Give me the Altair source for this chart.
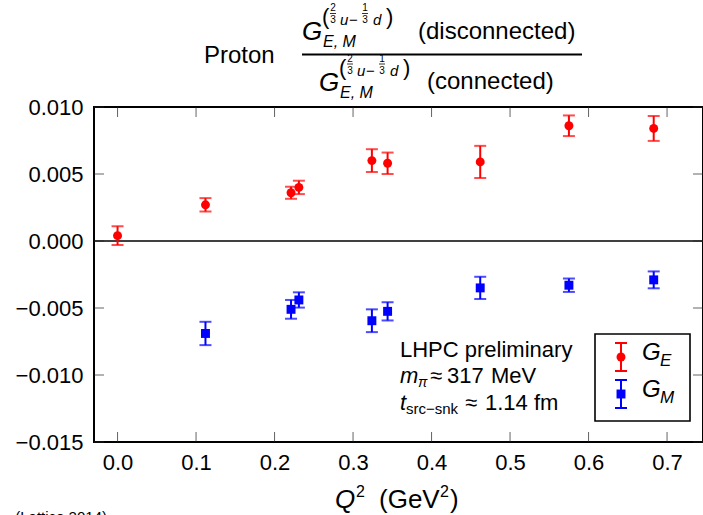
import altair as alt
import pandas as pd

# ---------------- data ----------------
q_E = [0.0, 0.112, 0.221, 0.231, 0.324, 0.344, 0.462, 0.575, 0.683]
GE = [0.0004, 0.0027, 0.0036, 0.0040, 0.0060, 0.0058, 0.0059, 0.0086, 0.0084]
GE_err = [0.0007, 0.0005, 0.00045, 0.0005, 0.00085, 0.0008, 0.0012, 0.00077, 0.00093]

q_M = [0.112, 0.221, 0.231, 0.324, 0.344, 0.462, 0.575, 0.683]
GM = [-0.0069, -0.0051, -0.0044, -0.00595, -0.00525, -0.0035, -0.0033, -0.0029]
GM_err = [0.00087, 0.0007, 0.00057, 0.00085, 0.00068, 0.00083, 0.0005, 0.00063]

x_ticks = [0.0, 0.1, 0.2, 0.3, 0.4, 0.5, 0.6, 0.7]
y_ticks = [-0.015, -0.010, -0.005, 0.0, 0.005, 0.010]

series = ["G_E", "G_M"]
colors = ["#ff0000", "#0000ff"]
shapes = ["circle", "square"]

rows = []
for q, v, e in zip(q_E, GE, GE_err):
    rows.append({"q": q, "v": v, "lo": v - e, "hi": v + e, "s": "G_E"})
for q, v, e in zip(q_M, GM, GM_err):
    rows.append({"q": q, "v": v, "lo": v - e, "hi": v + e, "s": "G_M"})
df = pd.DataFrame(rows)

xt_df = pd.DataFrame({"t": x_ticks})
yt_df = pd.DataFrame({"t": y_ticks})

# ---------------- layout ----------------
FONT = "Liberation Sans"
L, T0 = 94, 107
W, H = 609, 335

xscale = alt.Scale(domain=[-0.03, 0.7458], nice=False, zero=False)
yscale = alt.Scale(domain=[-0.015, 0.010], nice=False, zero=False)
xaxis = alt.Axis(values=x_ticks, format=".1f", labelFont=FONT, labelFontSize=22,
                 labelColor="black", ticks=False, domain=False, grid=False,
                 labelPadding=10, title=None)
yaxis = alt.Axis(values=y_ticks, format=".3f", labelFont=FONT, labelFontSize=22,
                 labelColor="black", ticks=False, domain=False, grid=False,
                 labelPadding=11, title=None)
cscale = alt.Scale(domain=series, range=colors)
sscale = alt.Scale(domain=series, range=shapes)

one = alt.Data(values=[{"a": 1}])

layers = []


def txt(s, x, y, size, italic=False, align="left"):
    return alt.Chart(one).mark_text(
        text=s, font=FONT, fontSize=size,
        fontStyle="italic" if italic else "normal",
        align=align, baseline="alphabetic", color="black"
    ).encode(x=alt.value(x - L), y=alt.value(y - T0))


def hline(x1, x2, y, w=1.5, color="black"):
    return alt.Chart(one).mark_rule(color=color, strokeWidth=w).encode(
        x=alt.value(x1 - L), x2=alt.value(x2 - L), y=alt.value(y - T0))


def vline(x, y1, y2, w=2, color="black"):
    return alt.Chart(one).mark_rule(color=color, strokeWidth=w).encode(
        x=alt.value(x - L), y=alt.value(y1 - T0), y2=alt.value(y2 - T0))


# zero line
zero = alt.Chart(one).mark_rule(color="black", strokeWidth=1.6).encode(
    y=alt.datum(0, scale=yscale, axis=yaxis))
layers.append(zero)

# inward ticks
tick_style = dict(color="#222222", thickness=1, size=10)
layers.append(alt.Chart(xt_df).mark_tick(orient="vertical", **tick_style).encode(
    x=alt.X("t:Q", scale=xscale, axis=xaxis), y=alt.value(H - 5)))
layers.append(alt.Chart(xt_df).mark_tick(orient="vertical", **tick_style).encode(
    x=alt.X("t:Q", scale=xscale, axis=xaxis), y=alt.value(5)))
layers.append(alt.Chart(yt_df).mark_tick(orient="horizontal", **tick_style).encode(
    y=alt.Y("t:Q", scale=yscale, axis=yaxis), x=alt.value(5)))
layers.append(alt.Chart(yt_df).mark_tick(orient="horizontal", **tick_style).encode(
    y=alt.Y("t:Q", scale=yscale, axis=yaxis), x=alt.value(W - 5)))

# error bars
base = alt.Chart(df)
layers.append(base.mark_rule(strokeWidth=2).encode(
    x=alt.X("q:Q", scale=xscale, axis=xaxis),
    y=alt.Y("lo:Q", scale=yscale, axis=yaxis), y2="hi:Q",
    color=alt.Color("s:N", scale=cscale, legend=None)))
for f in ["lo", "hi"]:
    layers.append(base.mark_tick(orient="horizontal", thickness=2, size=12).encode(
        x=alt.X("q:Q", scale=xscale, axis=xaxis),
        y=alt.Y(f + ":Q", scale=yscale, axis=yaxis),
        color=alt.Color("s:N", scale=cscale, legend=None)))
layers.append(base.mark_point(filled=True, opacity=1, size=80).encode(
    x=alt.X("q:Q", scale=xscale, axis=xaxis),
    y=alt.Y("v:Q", scale=yscale, axis=yaxis),
    color=alt.Color("s:N", scale=cscale, legend=None),
    shape=alt.Shape("s:N", scale=sscale, legend=None)))

# ---------------- title (fraction) ----------------
layers.append(txt("Proton", 204, 63, 24))
layers.append(hline(302, 582, 54.5, 1.8))


def gblock(dx, dy):
    out = []
    out.append(txt("G", 302 + dx, 40 + dy, 26, italic=True))
    out.append(txt("(", 322 + dx, 24 + dy, 22))
    out.append(txt("2", 333 + dx, 11 + dy, 10, align="center"))
    out.append(hline(330 + dx, 336 + dx, 13.5 + dy, 0.8))
    out.append(txt("3", 333 + dx, 23 + dy, 10, align="center"))
    out.append(txt("u", 340 + dx, 25 + dy, 15, italic=True))
    out.append(txt("\u2212", 349 + dx, 25 + dy, 15))
    out.append(txt("1", 365 + dx, 11 + dy, 10, align="center"))
    out.append(hline(362 + dx, 368 + dx, 13.5 + dy, 0.8))
    out.append(txt("3", 365 + dx, 23 + dy, 10, align="center"))
    out.append(txt("d", 373 + dx, 25 + dy, 15, italic=True))
    out.append(txt(")", 386 + dx, 24 + dy, 22))
    out.append(txt("E, M", 323 + dx, 47 + dy, 16, italic=True))
    return out


layers += gblock(0, 0)
layers.append(txt("(disconnected)", 418, 39, 24))
layers += gblock(17, 50.5)
layers.append(txt("(connected)", 427, 89, 24))

# ---------------- axis title ----------------
layers.append(txt("Q", 335, 508, 26, italic=True))
layers.append(txt("2", 356, 497, 16))
layers.append(txt("(GeV", 379, 508, 26))
layers.append(txt("2", 440, 497, 16))
layers.append(txt(")", 450, 508, 26))

# bottom-left clipped citation
layers.append(txt("(Lattice 2014)", 107, 522, 15, align="right"))

# ---------------- annotation ----------------
layers.append(txt("LHPC preliminary", 400, 357, 22))
layers.append(txt("m", 400, 383, 22, italic=True))
layers.append(txt("\u03c0", 418, 387, 14, italic=True))
layers.append(txt("\u2248", 430, 383, 22))
layers.append(txt("317", 447, 383, 22))
layers.append(txt("MeV", 491, 383, 22))
layers.append(txt("t", 400, 410, 22, italic=True))
layers.append(txt("src\u2212snk", 406, 414, 15))
layers.append(txt("\u2248", 465, 410, 22))
layers.append(txt("1.14 fm", 485, 410, 22))

# ---------------- legend ----------------
layers.append(alt.Chart(one).mark_rect(fill="white", stroke="black", strokeWidth=1.6).encode(
    x=alt.value(595 - L), x2=alt.value(690 - L), y=alt.value(334 - T0), y2=alt.value(421 - T0)))
for c, shp, y0, lab in [("#ff0000", "circle", 343, "E"), ("#0000ff", "square", 380, "M")]:
    layers.append(vline(621, y0, y0 + 28, 2, c))
    layers.append(hline(615, 627, y0, 2, c))
    layers.append(hline(615, 627, y0 + 28, 2, c))
    layers.append(alt.Chart(one).mark_point(filled=True, opacity=1, size=80, shape=shp, color=c).encode(
        x=alt.value(621 - L), y=alt.value(y0 + 14 - T0)))
    layers.append(txt("G", 642, y0 + 17, 24, italic=True))
    layers.append(txt(lab, 660, y0 + 23, 17, italic=True))

chart = alt.layer(*layers).properties(
    width=W, height=H,
    autosize=alt.AutoSizeParams(type="none"),
    padding={"left": L, "top": T0, "right": 703 - L - W, "bottom": 515 - T0 - H},
    background="white",
).configure_view(stroke="black", strokeWidth=2)

chart.save("out.html", embed_options={"renderer": "svg", "actions": False})
